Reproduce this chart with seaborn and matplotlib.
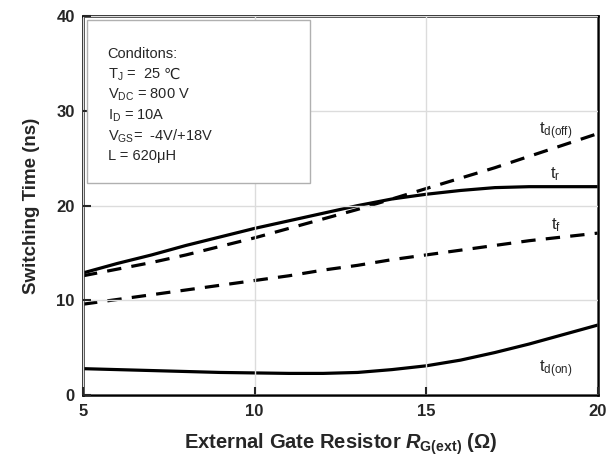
import seaborn as sns
import matplotlib.pyplot as plt
import pandas as pd

# gate resistor (ohm) and switching times (ns)
rg = [5, 6, 7, 8, 9, 10, 11, 12, 13, 14, 15, 16, 17, 18, 19, 20]
t_r = [12.9, 13.9, 14.8, 15.8, 16.7, 17.6, 18.4, 19.2, 20.0, 20.7, 21.2, 21.6, 21.9, 22.0, 22.0, 22.0]
t_doff = [12.6, 13.3, 14.0, 14.8, 15.7, 16.6, 17.6, 18.6, 19.6, 20.7, 21.8, 22.9, 24.0, 25.2, 26.4, 27.6]
t_f = [9.6, 10.1, 10.6, 11.1, 11.6, 12.1, 12.6, 13.2, 13.7, 14.3, 14.8, 15.3, 15.8, 16.3, 16.7, 17.1]
t_don = [2.8, 2.7, 2.6, 2.5, 2.4, 2.35, 2.3, 2.3, 2.4, 2.7, 3.1, 3.7, 4.5, 5.4, 6.4, 7.4]

curve_names = ['t_r', 't_doff', 't_f', 't_don']
curve_labels = [r'$\mathrm{t_r}$', r'$\mathrm{t_{d(off)}}$', r'$\mathrm{t_f}$', r'$\mathrm{t_{d(on)}}$']
conditions = ['Conditons:', r'T$_\mathrm{J}$ =  25', r'V$_\mathrm{DC}$ = 800 V', r'I$_\mathrm{D}$ = 10A',
              r'V$_\mathrm{GS}$=  -4V/+18V', 'L = 620μH']

df = pd.DataFrame({'rg': rg, 't_r': t_r, 't_doff': t_doff, 't_f': t_f, 't_don': t_don})

sns.set_style('white')
plt.rcParams['font.family'] = ['Liberation Sans', 'DejaVu Sans']
plt.rcParams['mathtext.fontset'] = 'custom'
plt.rcParams['mathtext.rm'] = 'Liberation Sans'
plt.rcParams['mathtext.bf'] = 'Liberation Sans:bold'
plt.rcParams['mathtext.it'] = 'Liberation Sans:italic:bold'

fig = plt.figure(figsize=(6.15, 4.59), dpi=100)
ax = fig.add_axes([0.135, 0.139, 0.837, 0.826])

styles = {'t_r': '-', 't_doff': '--', 't_f': '--', 't_don': '-'}
for name in curve_names:
    sns.lineplot(data=df, x='rg', y=name, ax=ax, color='black', lw=2.3)
    if styles[name] == '--':
        ax.lines[-1].set_dashes((4.5, 3.2))

ax.set_xlim(5, 20)
ax.set_ylim(0, 40)
ax.set_xticks([5, 10, 15, 20])
ax.set_yticks([0, 10, 20, 30, 40])
ax.grid(True, color='#dcdcdc', lw=1)
ax.set_axisbelow(False)
ax.tick_params(direction='in', length=6, width=1.5, labelsize=12, pad=6,
               top=False, right=False, left=True, bottom=True)
for lab in ax.get_xticklabels() + ax.get_yticklabels():
    lab.set_fontweight('bold')
for sp in ax.spines.values():
    sp.set_linewidth(1.8)
    sp.set_color('black')

ax.set_ylabel('Switching Time (ns)', fontsize=13.5, fontweight='bold', labelpad=12)
ax.set_xlabel(r'External Gate Resistor $R_{\mathbf{G(ext)}}$ (Ω)', fontsize=14.5, fontweight='bold', labelpad=9)

# curve labels
label_pos = {'t_r': (18.6, 23.3), 't_doff': (18.3, 27.9), 't_f': (18.65, 17.9), 't_don': (18.3, 2.7)}
for name, lab in zip(curve_names, curve_labels):
    ax.text(label_pos[name][0], label_pos[name][1], lab, fontsize=12, ha='left', va='center')

# conditions box
box = plt.Rectangle((5.12, 22.4), 6.48, 17.2, fill=True, facecolor='white', edgecolor='#b0b0b0', lw=1, zorder=3)
ax.add_patch(box)
for i, line in enumerate(conditions):
    ax.text(5.72, 36.0 - i * 2.16, line, fontsize=10.5, ha='left', va='center', zorder=4)
ax.text(7.36, 36.0 - 2.16, '℃', fontsize=10.5, ha='left', va='center', zorder=4,
        family=['DejaVu Sans'], color='#222222')

fig.savefig('out.png', dpi=100)
